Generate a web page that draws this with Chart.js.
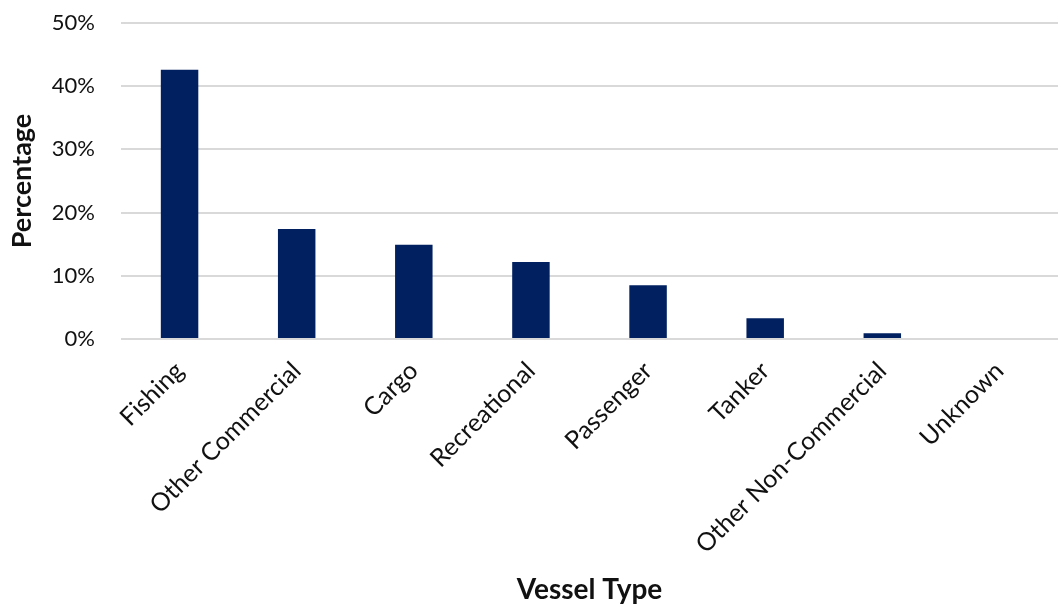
<!DOCTYPE html>
<html>
<head>
<meta charset="utf-8">
<script src="https://cdn.jsdelivr.net/npm/chart.js@4"></script>
<style>
  html, body { margin: 0; padding: 0; background: #fff; }
  #wrap { width: 1061px; height: 607px; }
</style>
</head>
<body>
<div id="wrap"><canvas id="vessel-chart"></canvas></div>
<script>
const vesselTypes = ['Fishing', 'Other Commercial', 'Cargo', 'Recreational', 'Passenger', 'Tanker', 'Other Non-Commercial', 'Unknown'];
const vesselShare = [42.6, 17.4, 14.9, 12.2, 8.5, 3.3, 0.9, 0];
const yTicks = [0, 10, 20, 30, 40, 50];

const fontFamily = "Lato, 'Open Sans', sans-serif";
const textColor = '#111';

const ctx = document.getElementById('vessel-chart').getContext('2d');
const vesselChart = new Chart(ctx, {
  type: 'bar',
  data: {
    labels: vesselTypes,
    datasets: [
      {
        label: 'Percentage',
        data: vesselShare,
        backgroundColor: '#002060',
        borderColor: '#002060',
        borderWidth: 0,
        categoryPercentage: 1,
        barPercentage: 0.32
      }
    ]
  },
  options: {
    responsive: true,
    maintainAspectRatio: false,
    animation: false,
    layout: {
      padding: { top: 0, right: 3, left: 0, bottom: 0 }
    },
    plugins: {
      legend: { display: false },
      tooltip: { enabled: false }
    },
    scales: {
      x: {
        grid: { display: false, drawTicks: false },
        border: { display: false },
        ticks: {
          autoSkip: false,
          maxRotation: 45,
          minRotation: 45,
          padding: 17,
          color: textColor,
          font: { family: fontFamily, size: 25 }
        },
        title: {
          display: true,
          text: 'Vessel Type',
          color: textColor,
          padding: { top: 0, bottom: 0 },
          font: { family: fontFamily, size: 28, weight: 'bold' }
        },
        afterFit: (scale) => { scale.height = 268; }
      },
      y: {
        min: 0,
        max: 50,
        afterBuildTicks: (scale) => { scale.ticks = yTicks.map(v => ({ value: v })); },
        grid: { color: '#d9d9d9', lineWidth: 2, drawTicks: false },
        border: { display: false },
        ticks: {
          padding: 26,
          color: textColor,
          font: { family: fontFamily, size: 22 },
          callback: (v) => v + '%'
        },
        title: {
          display: true,
          text: 'Percentage',
          color: textColor,
          padding: { top: 6, bottom: 0 },
          font: { family: fontFamily, size: 27, weight: 'bold' }
        },
        // tick padding would otherwise push the plot area down
        afterFit: (scale) => {
          scale.width = 121;
          scale.paddingTop = 23;
        }
      }
    }
  }
});
</script>
</body>
</html>
